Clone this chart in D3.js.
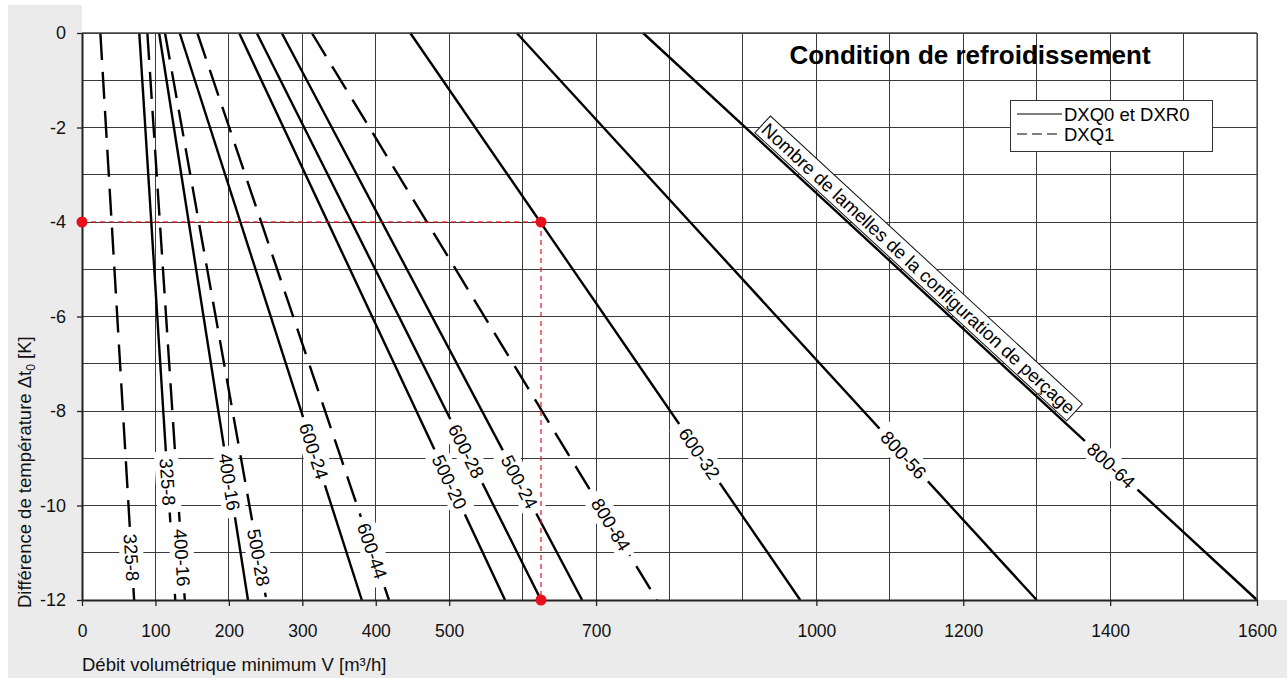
<!DOCTYPE html>
<html><head><meta charset="utf-8">
<script src="https://cdn.jsdelivr.net/npm/d3@7/dist/d3.min.js"></script>
<style>
html,body{margin:0;padding:0;background:#fff;}
svg{display:block;font-family:"Liberation Sans",Arial,Helvetica,sans-serif;}
</style></head><body>
<svg id="chart" width="1287" height="678"></svg>
<script>
// Solid curves (DXQ0 et DXR0): flow rate in m³/h at Δt0 = 0 K and at Δt0 = -12 K
const solidLabels     = ["325-8", "400-16", "600-24", "500-20", "600-28", "500-24", "600-32", "800-56", "800-64"];
const solidFlowTop    = [78, 105, 133, 214, 238, 272, 447, 592, 764];
const solidFlowBottom = [127, 226, 381, 576, 625, 681, 978, 1300, 1600];
const solidLabelDt    = [-9.5, -9.5, -8.85, -9.5, -8.85, -9.5, -8.9, -8.93, -9.15];

// Dashed curves (DXQ1)
const dashedLabels     = ["325-8", "400-16", "500-28", "600-44", "800-84"];
const dashedFlowTop    = [25, 89, 113, 157, 313];
const dashedFlowBottom = [71, 140, 251, 418, 783];
const dashedLabelDt    = [-11.1, -11.1, -11.1, -10.96, -10.4];

// Temperature difference at the two ends of every curve
const dtTop = 0, dtBottom = -12;

// Worked example: reading the 600-32 curve at Δt0 = -4 K
const exampleFlow = 625, exampleDt = -4;

// Axes
const xTickValues = [0, 100, 200, 300, 400, 500, 700, 1000, 1200, 1400, 1600];
const yTickValues = [0, -2, -4, -6, -8, -10, -12];
const xGridValues = [100, 200, 300, 400, 500, 600, 700, 800, 900, 1000, 1100, 1200, 1300, 1400, 1500, 1600];
const yGridValues = [-1, -2, -3, -4, -5, -6, -7, -8, -9, -10, -11, 0];

const titleText  = "Condition de refroidissement";
const legendText = ["DXQ0 et DXR0", "DXQ1"];
const noteText   = "Nombre de lamelles de la configuration de perçage";
const noteDt     = -5.2;

const W = 1287, H = 678;
const plot = {left: 82, right: 1257, top: 33, bottom: 600};
const svg = d3.select("#chart");

const x = d3.scaleLinear().domain([0, 1600]).range([plot.left, plot.right]);
const y = d3.scaleLinear().domain([-12, 0]).range([plot.bottom, plot.top]);

// grey frame around the plot (left band and bottom band)
svg.append("rect").attr("x", 8).attr("y", 5).attr("width", W - 8).attr("height", H - 5).attr("fill", "#ebebeb");
svg.append("rect").attr("x", plot.left).attr("y", 5).attr("width", W - plot.left).attr("height", plot.bottom - 5).attr("fill", "#fff");

// grid
const grid = svg.append("g").attr("stroke", "#3a3a3a").attr("stroke-width", 1).attr("shape-rendering", "crispEdges");
grid.selectAll("line.v").data(xGridValues).join("line").attr("class", "v")
  .attr("x1", d => x(d)).attr("x2", d => x(d)).attr("y1", plot.top).attr("y2", plot.bottom);
grid.selectAll("line.h").data(yGridValues).join("line").attr("class", "h")
  .attr("x1", plot.left).attr("x2", plot.right).attr("y1", d => y(d)).attr("y2", d => y(d));

// curves
const curves = [];
solidLabels.forEach((l, i) => curves.push({label: l, v0: solidFlowTop[i], v1: solidFlowBottom[i], dt: solidLabelDt[i], dashed: false}));
dashedLabels.forEach((l, i) => curves.push({label: l, v0: dashedFlowTop[i], v1: dashedFlowBottom[i], dt: dashedLabelDt[i], dashed: true}));

const line = d3.line().x(d => x(d[0])).y(d => y(d[1]));
svg.append("g").selectAll("path").data(curves).join("path")
  .attr("d", d => line([[d.v0, dtTop], [d.v1, dtBottom]]))
  .attr("fill", "none").attr("stroke", "#000").attr("stroke-width", 2.4)
  .attr("stroke-dasharray", d => d.dashed ? "27,12" : null);

const flowAt = (c, dt) => c.v0 + (c.v1 - c.v0) * (dt - dtTop) / (dtBottom - dtTop);
const angleOf = c => Math.atan2(y(dtBottom) - y(dtTop), x(c.v1) - x(c.v0)) * 180 / Math.PI;

// curve labels on white patches
const lab = svg.append("g").selectAll("g").data(curves).join("g")
  .attr("transform", d => `translate(${x(flowAt(d, d.dt))},${y(d.dt)}) rotate(${angleOf(d)})`);
lab.append("rect").attr("fill", "#fff");
lab.append("text").text(d => d.label).attr("text-anchor", "middle").attr("dy", "0.36em")
  .attr("font-size", 18.5).attr("fill", "#000");
lab.each(function() {
  const g = d3.select(this);
  const b = g.select("text").node().getBBox();
  g.select("rect").attr("x", b.x - 7).attr("y", -12).attr("width", b.width + 14).attr("height", 24);
});

// example reading
const red = "#e8101c";
svg.append("path")
  .attr("d", line([[0, exampleDt], [exampleFlow, exampleDt], [exampleFlow, dtBottom]]))
  .attr("fill", "none").attr("stroke", red).attr("stroke-width", 1.4).attr("stroke-dasharray", "5,4").attr("opacity", 0.85);

// plot border and axes
svg.append("line").attr("x1", plot.left).attr("x2", plot.right).attr("y1", plot.top).attr("y2", plot.top)
  .attr("stroke", "#444").attr("stroke-width", 1.3);
svg.append("line").attr("x1", plot.right).attr("x2", plot.right).attr("y1", plot.top).attr("y2", plot.bottom)
  .attr("stroke", "#555").attr("stroke-width", 1.3);

const xAxis = svg.append("g").attr("transform", `translate(0,${plot.bottom})`)
  .call(d3.axisBottom(x).tickValues(xTickValues).tickSize(6).tickSizeOuter(0).tickFormat(d => String(d)));
xAxis.select(".domain").attr("stroke", "#222").attr("stroke-width", 2);
xAxis.selectAll(".tick line").attr("stroke", "#222").attr("stroke-width", 1.3);
xAxis.selectAll("text").attr("font-size", 17.5).attr("font-family", null).attr("fill", "#111")
  .attr("y", 37).attr("dy", null);

const yAxis = svg.append("g").attr("transform", `translate(${plot.left},0)`)
  .call(d3.axisLeft(y).tickValues(yTickValues).tickSize(5).tickPadding(11).tickSizeOuter(0).tickFormat(d => String(d)));
yAxis.select(".domain").attr("stroke", "#222").attr("stroke-width", 2);
yAxis.selectAll(".tick line").attr("stroke", "#222").attr("stroke-width", 1.3);
yAxis.selectAll("text").attr("font-size", 18).attr("font-family", null).attr("fill", "#111");

// example points
svg.append("g").selectAll("circle")
  .data([[0, exampleDt], [exampleFlow, exampleDt], [exampleFlow, dtBottom]]).join("circle")
  .attr("cx", d => x(d[0])).attr("cy", d => y(d[1])).attr("r", 5.5).attr("fill", red);

// axis titles
svg.append("text").attr("x", plot.left).attr("y", 671).attr("font-size", 18.5).attr("fill", "#111")
  .text("Débit volumétrique minimum V [m³/h]");
const yt = svg.append("text").attr("transform", "translate(31,608) rotate(-90)")
  .attr("font-size", 18.5).attr("fill", "#111");
yt.append("tspan").text("Différence de température  Δt");
yt.append("tspan").attr("font-size", 12).attr("dy", 4).text("0");
yt.append("tspan").attr("dy", -4).text(" [K]");

// title
svg.append("text").attr("x", 970).attr("y", 64).attr("text-anchor", "middle")
  .attr("font-size", 26).attr("font-weight", "bold").attr("fill", "#000").text(titleText);

// legend
const lg = svg.append("g");
lg.append("rect").attr("x", 1010.5).attr("y", 100.5).attr("width", 202).attr("height", 51)
  .attr("fill", "#fff").attr("stroke", "#333").attr("stroke-width", 1);
legendText.forEach((t, i) => {
  const ly = 114 + i * 20;
  lg.append("line").attr("x1", 1017).attr("x2", 1062).attr("y1", ly).attr("y2", ly)
    .attr("stroke", "#000").attr("stroke-width", 1.2).attr("stroke-dasharray", i ? "10,5" : null);
  lg.append("text").attr("x", 1064).attr("y", ly + 6.5).attr("font-size", 18.5).attr("fill", "#000").text(t);
});

// note along the 800-64 curve
const c64 = curves[8];
const a64 = angleOf(c64);
const rad = a64 * Math.PI / 180;
const off = 14;
const nx = x(flowAt(c64, noteDt)) + off * Math.sin(rad);
const ny = y(noteDt) - off * Math.cos(rad);
const note = svg.append("g").attr("transform", `translate(${nx},${ny}) rotate(${a64})`);
const nr = note.append("rect").attr("fill", "#fff").attr("stroke", "#111").attr("stroke-width", 1);
const nt = note.append("text").attr("text-anchor", "middle").attr("dy", "0.36em").attr("font-size", 18.5)
  .attr("fill", "#000").text(noteText);
const nb = nt.node().getBBox();
nr.attr("x", nb.x - 3).attr("y", -11.5).attr("width", nb.width + 6).attr("height", 23);
</script>
</body></html>
